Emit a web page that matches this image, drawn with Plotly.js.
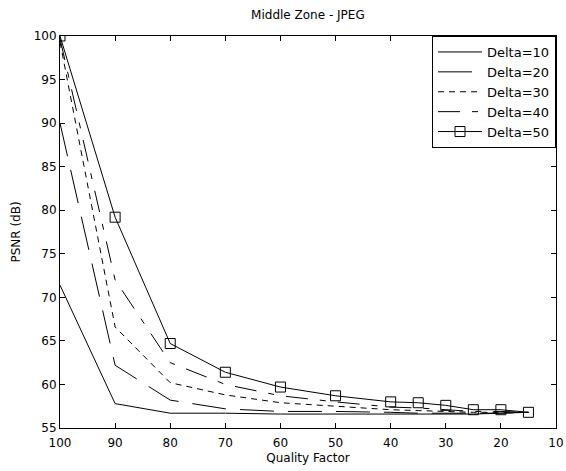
<!DOCTYPE html>
<html>
<head>
<meta charset="utf-8">
<script src="https://cdn.plot.ly/plotly-3.0.1.min.js"></script>
<style>html,body{margin:0;padding:0;background:#fff;}#chart{width:566px;height:471px;}</style>
</head>
<body>
<div id="chart"></div>
<script>
const quality = [100, 90, 80, 70, 60, 50, 40, 35, 30, 25, 20, 15];
const delta10 = [71.4, 57.8, 56.7, 56.7, 56.6, 56.6, 56.6, 56.6, 56.6, 56.6, 56.7, 56.8];
const delta20 = [90.0, 62.2, 58.2, 57.2, 56.9, 56.9, 56.8, 56.7, 56.7, 56.7, 56.7, 56.8];
const delta30 = [99.3, 66.6, 60.2, 58.8, 57.9, 57.5, 57.1, 57.0, 56.9, 56.8, 56.8, 56.8];
const delta40 = [99.7, 72.0, 62.5, 60.0, 58.7, 58.0, 57.4, 57.3, 57.1, 56.9, 56.9, 56.8];
const delta50 = [100, 79.2, 64.7, 61.4, 59.7, 58.7, 58.0, 57.9, 57.6, 57.1, 57.1, 56.8];
const seriesNames = ["Delta=10", "Delta=20", "Delta=30", "Delta=40", "Delta=50"];
const xTicks = [100, 90, 80, 70, 60, 50, 40, 30, 20, 10];
const yTicks = [55, 60, 65, 70, 75, 80, 85, 90, 95, 100];

const font = "DejaVu Sans, Arial, sans-serif";
const styles = [
  {dash: "solid", mode: "lines"},
  {dash: "34px,14px", mode: "lines"},
  {dash: "6px,5px", mode: "lines"},
  {dash: "22px,12px,6px,12px", mode: "lines"},
  {dash: "solid", mode: "lines+markers"}
];
const ys = [delta10, delta20, delta30, delta40, delta50];
const traces = ys.map((y, i) => ({
  x: quality, y: y, name: seriesNames[i], type: "scatter", mode: styles[i].mode,
  line: {color: "#000", width: 1, dash: styles[i].dash},
  marker: {symbol: "square-open", size: 10, color: "#000", line: {width: 1, color: "#000"}}
}));

const layout = {
  width: 566, height: 471,
  margin: {l: 60, r: 10, t: 36, b: 43},
  paper_bgcolor: "#fff", plot_bgcolor: "#fff",
  font: {family: font, size: 12, color: "#000"},
  title: {text: "Middle Zone - JPEG", x: 0.544, xanchor: "center", y: 0.968, yanchor: "middle", font: {family: font, size: 12, color: "#000"}},
  showlegend: true,
  legend: {x: 1, xanchor: "right", y: 1, yanchor: "top", bgcolor: "#fff", bordercolor: "#000", borderwidth: 1,
           font: {family: font, size: 13, color: "#000"}, tracegroupgap: 0, itemwidth: 44},
  xaxis: {
    range: [100, 10], tickvals: xTicks, ticktext: xTicks.map(String),
    ticks: "inside", ticklen: 5, tickcolor: "#000", showline: true, linecolor: "#000", linewidth: 1, mirror: "ticks",
    showgrid: false, zeroline: false, tickfont: {family: font, size: 12, color: "#000"}, ticklabelstandoff: 4,
    title: {text: "Quality Factor", standoff: 4, font: {family: font, size: 12, color: "#000"}}
  },
  yaxis: {
    range: [55, 100], tickvals: yTicks, ticktext: yTicks.map(String),
    ticks: "inside", ticklen: 5, tickcolor: "#000", showline: true, linecolor: "#000", linewidth: 1, mirror: "ticks",
    showgrid: false, zeroline: false, tickfont: {family: font, size: 12, color: "#000"},
    title: {text: "PSNR (dB)", standoff: 10, font: {family: font, size: 12, color: "#000"}}
  }
};
Plotly.newPlot("chart", traces, layout, {staticPlot: true});
</script>
</body>
</html>
